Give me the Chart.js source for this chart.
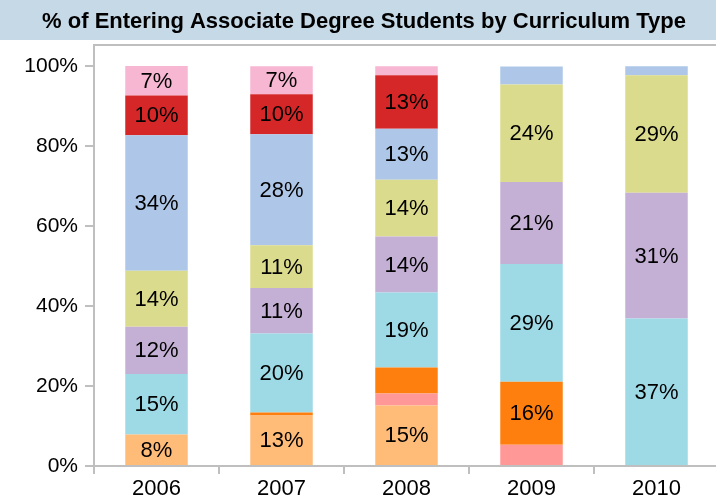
<!DOCTYPE html>
<html>
<head>
<meta charset="utf-8">
<script src="https://cdn.jsdelivr.net/npm/chart.js@4/dist/chart.umd.min.js"></script>
<style>
  html, body { margin: 0; padding: 0; overflow: hidden; background: #fff; }
  canvas { display: block; }
</style>
</head>
<body>
<canvas id="mycanvas" width="724" height="502"></canvas>
<script>
var years = ['2006', '2007', '2008', '2009', '2010'];
var titleText = '% of Entering Associate Degree Students by Curriculum Type';
var yTicks = [0, 20, 40, 60, 80, 100];

// bottom to top
var peach     = [7.9, 12.6, 15.1, 0, 0];
var salmon    = [0, 0, 3.0, 5.3, 0];
var orange    = [0, 0.75, 6.5, 15.75, 0];
var cyan      = [15.1, 19.75, 18.75, 29.45, 36.9];
var lavender  = [11.8, 11.4, 14, 20.5, 31.4];
var olive     = [14, 10.7, 14.2, 24.4, 29.4];
var lightBlue = [33.9, 27.75, 12.75, 4.5, 2.25];
var red       = [9.9, 10, 13.4, 0, 0];
var pink      = [7.4, 7, 2.25, 0, 0];

var font = 'Arial, "Liberation Sans", sans-serif';
var axisGrey = '#bfbfbf';

function ds(label, data, color) {
	return {
		label: label,
		data: data,
		backgroundColor: color,
		borderWidth: 0,
		categoryPercentage: 1,
		barPercentage: 0.5
	};
}

var chartdata = {
	labels: years,
	datasets: [
		ds('Type 1', peach, '#ffbb78'),
		ds('Type 2', salmon, '#ff9896'),
		ds('Type 3', orange, '#ff7f0e'),
		ds('Type 4', cyan, '#9edae5'),
		ds('Type 5', lavender, '#c5b0d5'),
		ds('Type 6', olive, '#dbdb8d'),
		ds('Type 7', lightBlue, '#aec7e8'),
		ds('Type 8', red, '#d62728'),
		ds('Type 9', pink, '#f7b6d2')
	]
};

// title band + top border of the plot
var frame = {
	id: 'frame',
	beforeDraw: function(chart) {
		var c = chart.ctx;
		c.save();
		c.fillStyle = '#c6d9e7';
		c.fillRect(0, 0, chart.width, 40);
		c.fillStyle = '#000';
		c.font = 'bold 22px ' + font;
		c.textAlign = 'center';
		c.textBaseline = 'middle';
		c.fillText(titleText, 364, 22);
		c.restore();
	},
	afterDraw: function(chart) {
		var a = chart.chartArea, c = chart.ctx;
		c.save();
		c.strokeStyle = axisGrey;
		c.lineWidth = 2;
		c.beginPath();
		c.moveTo(a.left, a.top);
		c.lineTo(a.right + 10, a.top);
		c.stroke();
		c.restore();
	}
};

// percent labels inside segments
var segLabels = {
	id: 'segLabels',
	afterDatasetsDraw: function(chart) {
		var c = chart.ctx;
		c.save();
		c.fillStyle = '#000';
		c.font = '22px ' + font;
		c.textAlign = 'center';
		c.textBaseline = 'middle';
		chart.data.datasets.forEach(function(d, i) {
			var meta = chart.getDatasetMeta(i);
			meta.data.forEach(function(bar, j) {
				var v = d.data[j];
				if (v < 7) return;
				c.fillText(Math.round(v) + '%', bar.x, (bar.y + bar.base) / 2 + 1);
			});
		});
		c.restore();
	}
};

var ctx = document.getElementById('mycanvas');
var barGraph = new Chart(ctx, {
	type: 'bar',
	data: chartdata,
	plugins: [frame, segLabels],
	options: {
		responsive: false,
		animation: false,
		devicePixelRatio: 1,
		layout: { padding: { top: 45, right: 5, left: 0, bottom: 0 } },
		plugins: {
			legend: { display: false },
			tooltip: { enabled: false }
		},
		scales: {
			x: {
				stacked: true,
				offset: true,
				grid: { offset: true, drawOnChartArea: false, tickLength: 8, color: axisGrey, lineWidth: 2 },
				border: { color: axisGrey, width: 2 },
				ticks: { color: '#000', font: { family: font, size: 22 }, padding: 2, maxRotation: 0 },
				afterFit: function(s) { s.height = 36; }
			},
			y: {
				stacked: true,
				min: 0,
				max: 105.25,
				afterBuildTicks: function(s) {
					s.ticks = yTicks.map(function(v) { return { value: v }; });
				},
				grid: { drawOnChartArea: false, tickLength: 9, color: axisGrey, lineWidth: 2 },
				border: { color: axisGrey, width: 2 },
				ticks: {
					color: '#000',
					font: { family: font, size: 21 },
					padding: 7,
					callback: function(v) { return v + '%'; }
				},
				afterFit: function(s) { s.width = 94; }
			}
		}
	}
});
</script>
</body>
</html>
